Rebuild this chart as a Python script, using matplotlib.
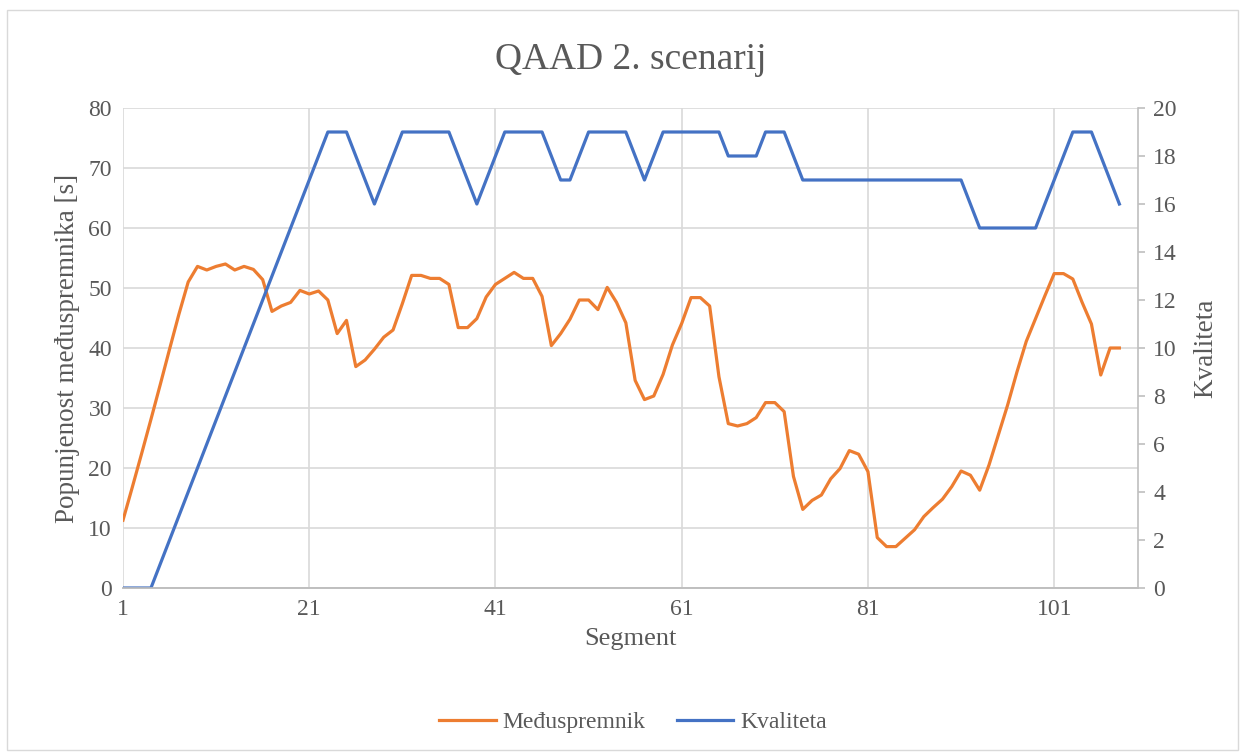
import numpy as np
import matplotlib
matplotlib.use("Agg")
import matplotlib.pyplot as plt
from matplotlib.patches import Rectangle

# buffer level [s] and quality index per segment
segments = np.arange(1, 109)
buffer_s = [
    11.3, 16.8, 22.4, 28.1, 33.9, 39.8, 45.6, 51.0, 53.6, 53.0,
    53.6, 54.0, 53.0, 53.6, 53.1, 51.4, 46.1, 47.0, 47.6, 49.6,
    49.0, 49.5, 48.0, 42.4, 44.6, 36.9, 38.0, 39.8, 41.8, 43.0,
    47.4, 52.1, 52.1, 51.6, 51.6, 50.6, 43.4, 43.4, 44.9, 48.5,
    50.6, 51.6, 52.6, 51.6, 51.6, 48.6, 40.4, 42.4, 44.8, 48.0,
    48.0, 46.4, 50.1, 47.6, 44.2, 34.6, 31.4, 32.0, 35.6, 40.5,
    44.1, 48.4, 48.4, 47.0, 35.2, 27.4, 27.0, 27.4, 28.4, 30.9,
    30.9, 29.4, 18.6, 13.1, 14.6, 15.5, 18.2, 19.9, 22.9, 22.3,
    19.4, 8.4, 6.9, 6.9, 8.3, 9.7, 11.9, 13.4, 14.8, 16.9,
    19.5, 18.8, 16.3, 20.5, 25.5, 30.5, 36.0, 41.1, 44.9, 48.7,
    52.4, 52.4, 51.5, 47.6, 44.0, 35.5, 40.0, 40.0,
]
quality = [
    0, 0, 0, 0, 1, 2, 3, 4, 5, 6,
    7, 8, 9, 10, 11, 12, 13, 14, 15, 16,
    17, 18, 19, 19, 19, 18, 17, 16, 17, 18,
    19, 19, 19, 19, 19, 19, 18, 17, 16, 17,
    18, 19, 19, 19, 19, 19, 18, 17, 17, 18,
    19, 19, 19, 19, 19, 18, 17, 18, 19, 19,
    19, 19, 19, 19, 19, 18, 18, 18, 18, 19,
    19, 19, 18, 17, 17, 17, 17, 17, 17, 17,
    17, 17, 17, 17, 17, 17, 17, 17, 17, 17,
    17, 16, 15, 15, 15, 15, 15, 15, 15, 16,
    17, 18, 19, 19, 19, 18, 17, 16,
]
x_ticks = [1, 21, 41, 61, 81, 101]

orange = "#ED7D31"
blue = "#4472C4"
grid = "#D9D9D9"
text = "#595959"

plt.rcParams["font.family"] = ["Liberation Serif", "DejaVu Serif"]

fig = plt.figure(figsize=(12.45, 7.54), dpi=100)
fig.patches.append(Rectangle((0.006, 0.005), 0.988, 0.982, transform=fig.transFigure,
                             fill=False, edgecolor=grid, linewidth=1))

ax = fig.add_axes([123 / 1245, 1 - 588 / 754, (1138 - 123) / 1245, (588 - 108) / 754])
ax2 = ax.twinx()

line1, = ax.plot(segments, buffer_s, color=orange, linewidth=2.3, solid_joinstyle="round")
line2, = ax2.plot(segments, quality, color=blue, linewidth=2.3, solid_joinstyle="round")

ax.set_xlim(1, 110)
ax.set_ylim(0, 80)
ax.set_yticks(range(0, 81, 10))
ax.set_xticks(x_ticks)
ax2.set_ylim(0, 20)
ax2.set_yticks(range(0, 21, 2))

ax.grid(True, color=grid, linewidth=1.2)
ax.set_axisbelow(True)

for a in (ax, ax2):
    for s in ("top", "left", "right"):
        a.spines[s].set_visible(False)
    a.spines["bottom"].set_color("#BFBFBF")
    a.spines["bottom"].set_linewidth(1.2)
ax2.spines["right"].set_visible(True)
ax2.spines["right"].set_color("#BFBFBF")
ax2.spines["right"].set_linewidth(1.2)

ax.tick_params(axis="both", length=0, labelsize=17, colors=text, pad=8)
ax2.tick_params(axis="y", length=5, width=1.2, color="#BFBFBF", labelsize=17,
                labelcolor=text, pad=6)

ax.set_xlabel("Segment", fontsize=19, color=text, labelpad=6)
ax.set_ylabel("Popunjenost međuspremnika [s]", fontsize=19.5, color=text, labelpad=6)
ax2.set_ylabel("Kvaliteta", fontsize=19.5, color=text, labelpad=12)

fig.text(631 / 1245, 1 - 60 / 754, "QAAD 2. scenarij", ha="center", va="center",
         fontsize=27, color=text)

fig.legend([line1, line2], ["Međuspremnik", "Kvaliteta"], loc="center",
           bbox_to_anchor=(633 / 1245, 1 - 722 / 754), ncol=2, frameon=False,
           fontsize=17, handlelength=2.4, handletextpad=0.3, columnspacing=1.3,
           labelcolor=text)

fig.savefig("out.png", dpi=100, facecolor="white")
